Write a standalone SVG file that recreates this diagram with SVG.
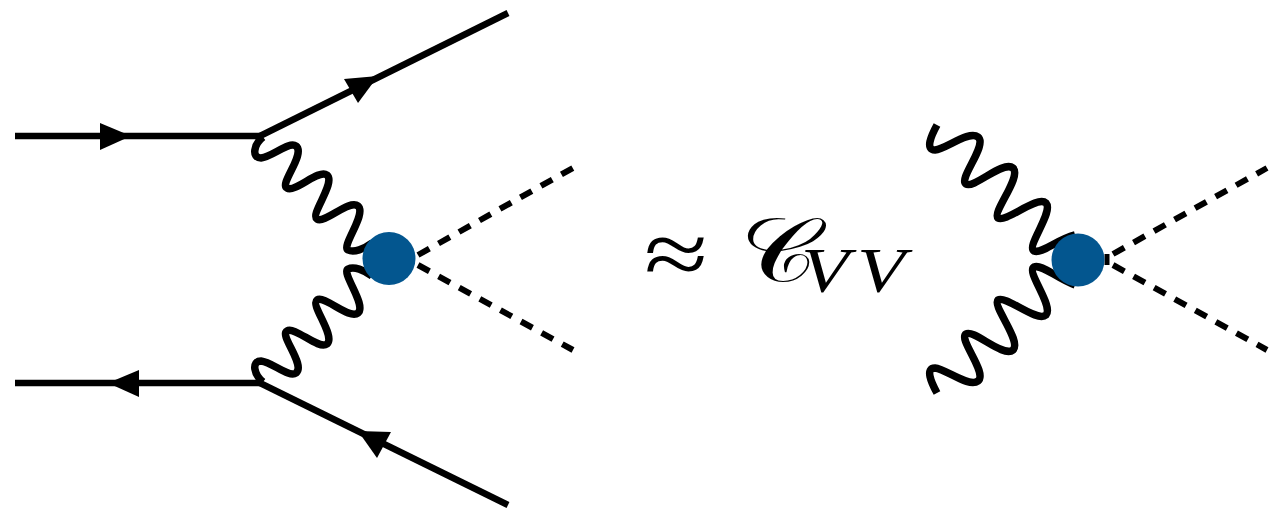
<svg xmlns="http://www.w3.org/2000/svg" width="1274" height="511" viewBox="0 0 1274 511">
<style>
.f{fill:none;stroke:#000;stroke-width:6.500}
.w{fill:none;stroke:#000;stroke-width:7.500;stroke-linecap:butt}
.d{fill:none;stroke:#000;stroke-width:6;stroke-dasharray:13 10.500}
.a{fill:#000}
.b{fill:#03568f}
.t{font-family:"Liberation Serif","DejaVu Serif",serif;fill:#000}
</style>
<rect width="1274" height="511" fill="#fff"/>
<g id="connectors">
<path class="f" d="M15,136H262"/>
<path class="f" d="M260,136L508,13"/>
<path class="f" d="M15,383H262"/>
<path class="f" d="M260,383L508,505"/>
<polygon class="a" points="100,123 131,136 100,150"/>
<polygon class="a" points="344,79 378,76 358,103"/>
<polygon class="a" points="139,370 108,383 139,397"/>
<polygon class="a" points="358,431 391,432 377,458"/>
<path class="w" d="M263,137C254,144 251,158 261,158C272,157 289,141 296,146C306,154 279,184 287,188C295,193 318,169 327,175C336,183 310,214 317,219C325,224 349,199 358,206C367,214 341,246 348,250C354,253 364,249 372,243"/>
<path class="w" d="M263,382C254,375 251,361 261,361C272,362 289,378 296,373C306,365 279,335 287,331C295,326 318,350 327,344C336,336 310,305 317,300C325,295 349,320 358,313C367,305 341,273 348,269C354,266 364,270 372,276"/>
<path class="w" d="M937,125C931,136 925,150 935,150C946,149 969,130 978,137C988,145 958,179 966,184C974,189 1003,160 1013,168C1022,177 992,212 998,218C1006,223 1037,195 1046,203C1054,212 1026,246 1034,251C1042,254 1056,240 1075,235"/>
<path class="w" d="M937,393C931,382 925,368 935,368C946,369 969,388 978,381C988,373 958,339 966,334C974,329 1003,358 1013,350C1022,341 992,306 998,300C1006,295 1037,323 1046,315C1054,306 1026,272 1034,267C1042,264 1056,278 1075,285"/>
<path class="d" d="M418,255L573,168"/>
<path class="d" d="M418,265L573,350"/>
<path class="d" d="M1113,254L1267,168"/>
<path class="d" d="M1113,265L1267,350"/>
<path d="M1107,254V265" fill="none" stroke="#000" stroke-width="5"/>
</g>
<g id="blob-left"><circle class="b" cx="389" cy="258.500" r="26.500"/></g>
<g id="blob-right"><circle class="b" cx="1078" cy="260" r="26.500"/></g>
<g id="label">
<text class="t" x="644" y="285" font-size="92" textLength="64" lengthAdjust="spacingAndGlyphs">≈</text>
<text class="t" x="740" y="281" font-size="90" textLength="78" lengthAdjust="spacingAndGlyphs">𝒞</text>
<text class="t" x="801" y="292" font-size="64" font-style="italic" textLength="48" lengthAdjust="spacingAndGlyphs">V</text>
<text class="t" x="857" y="292" font-size="64" font-style="italic" textLength="48" lengthAdjust="spacingAndGlyphs">V</text>
</g>
</svg>
